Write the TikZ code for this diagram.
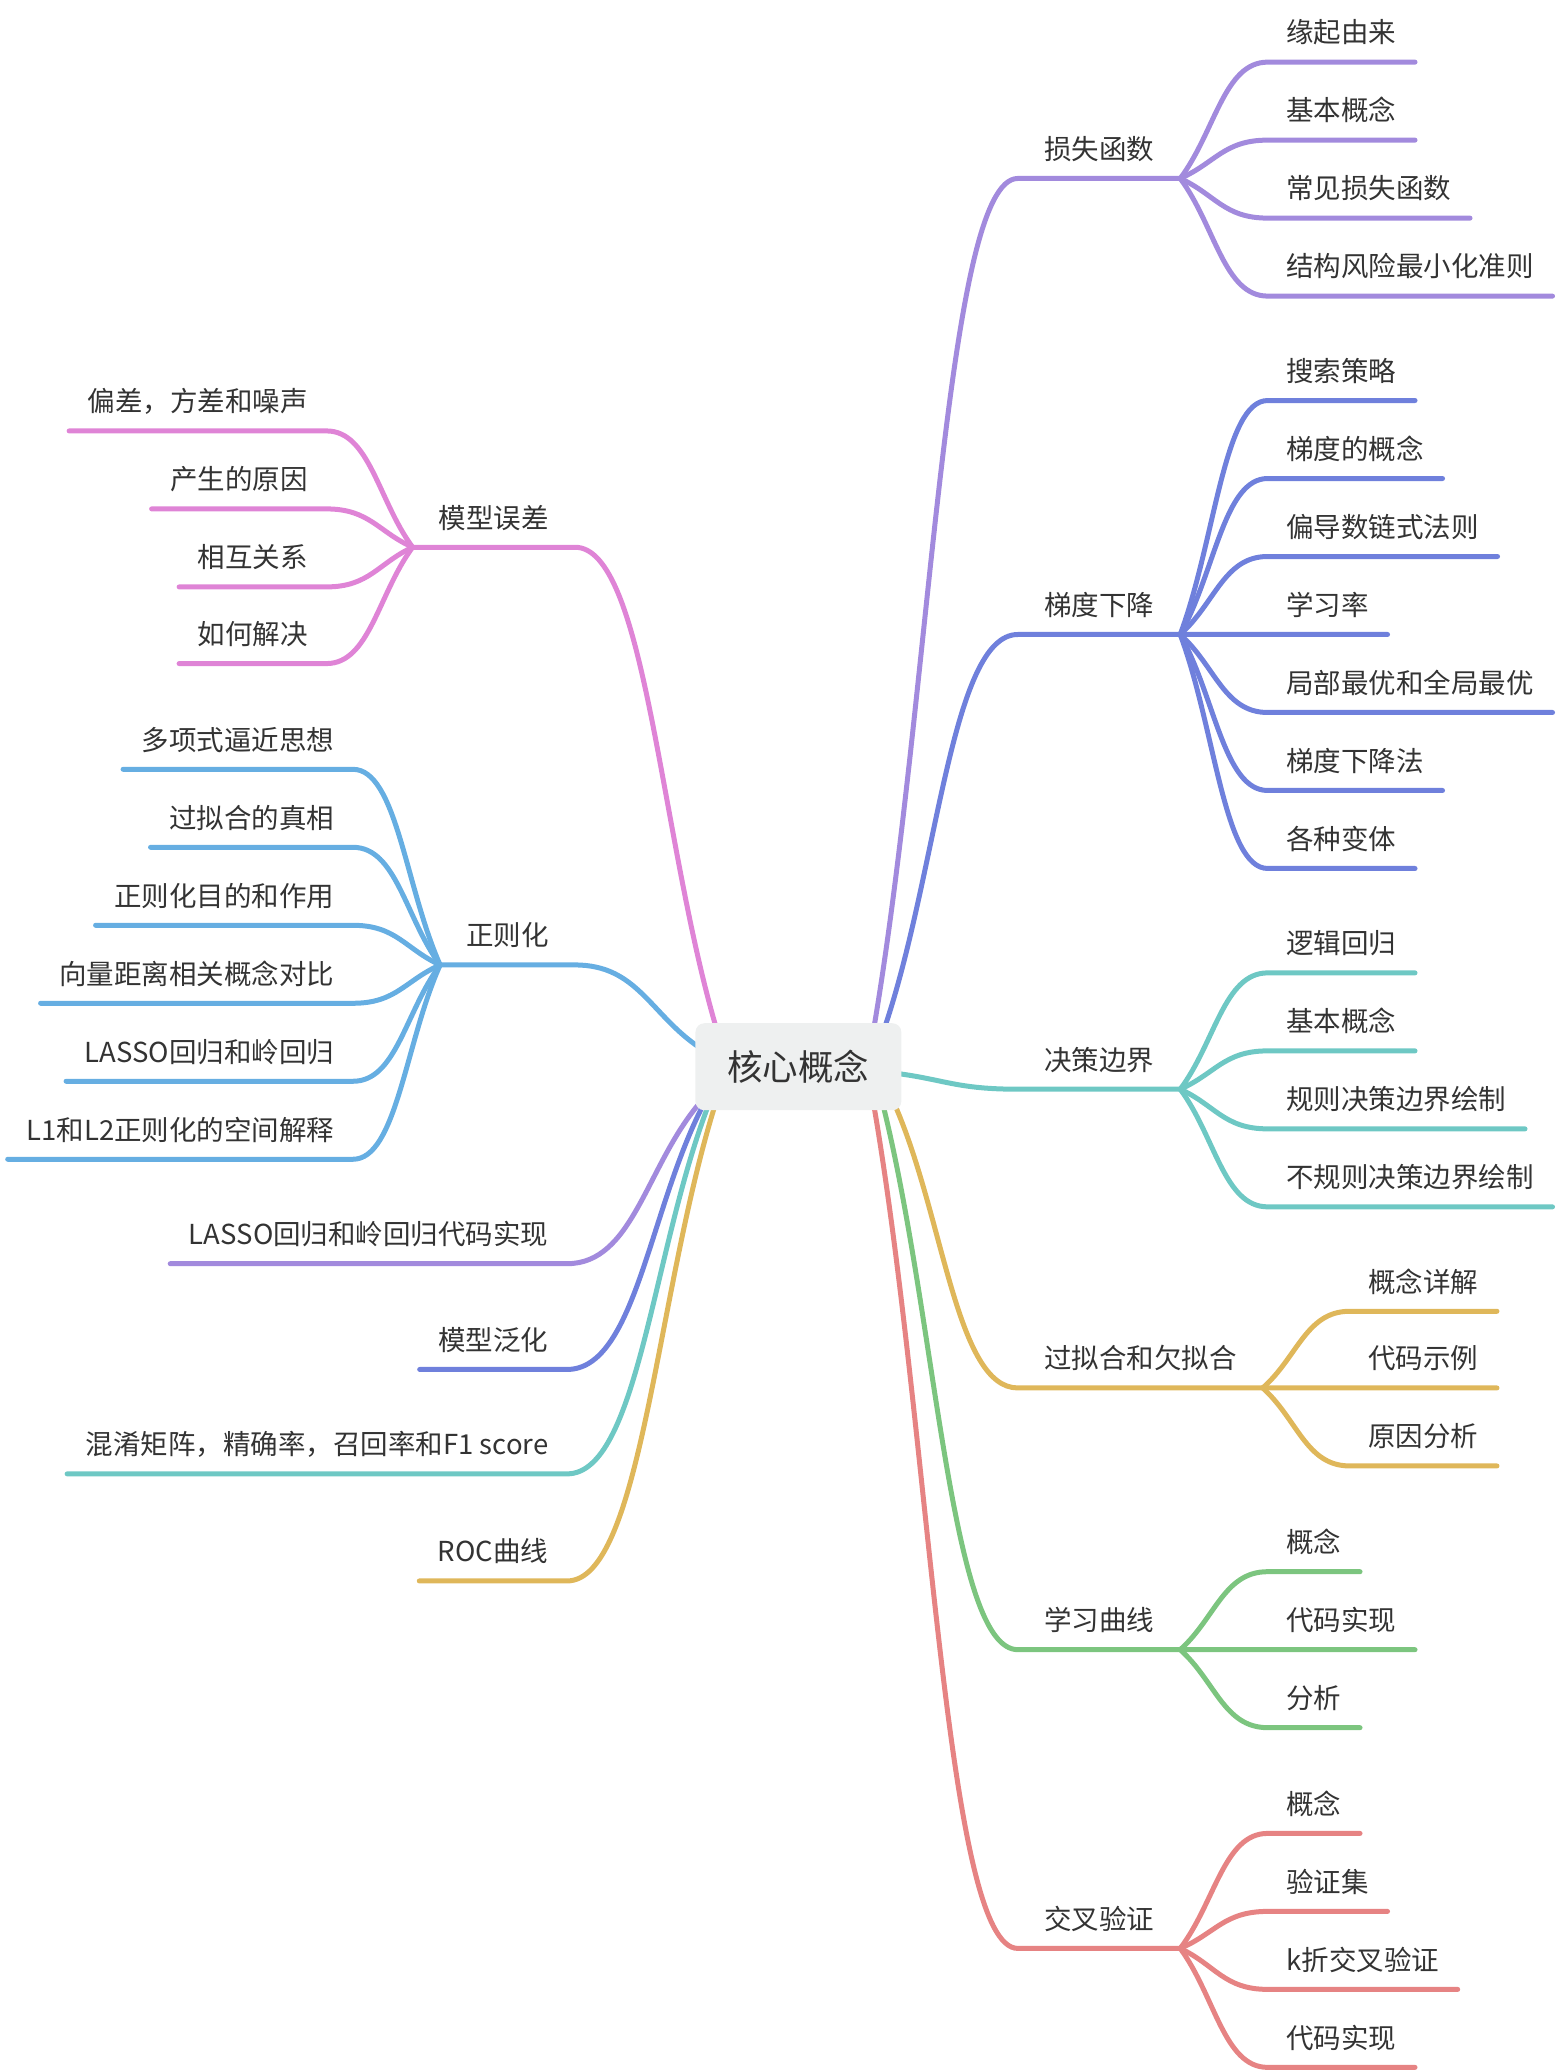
\documentclass[tikz,border=0pt]{standalone}
\usepackage{fontspec}
\setmainfont{Noto Sans CJK SC}
\usetikzlibrary{calc}
\definecolor{ink}{HTML}{333333}
\definecolor{corefill}{HTML}{EEF0F0}
\definecolor{cpurple}{HTML}{A28ADD}
\definecolor{cblue}{HTML}{6F80DC}
\definecolor{cteal}{HTML}{6EC8C4}
\definecolor{cyellow}{HTML}{DFB75A}
\definecolor{cgreen}{HTML}{7CC57F}
\definecolor{cred}{HTML}{E68383}
\definecolor{cpink}{HTML}{DF84D6}
\definecolor{clblue}{HTML}{66AEE2}
\pgfdeclarelayer{background}
\pgfsetlayers{background,main}
\tikzset{
  core/.style={fill=corefill, rounded corners=9pt, minimum width=206pt, minimum height=87pt,
    inner sep=0pt, text=ink, font=\fontsize{35.5}{40}\selectfont},
  topic/.style={inner xsep=26pt, inner ysep=19pt, text depth=0pt, text=ink,
    font=\fontsize{27.5}{32}\selectfont},
  item/.style={topic, inner xsep=18.5pt},
  twig/.style={line width=5pt, line cap=round,
    to path={.. controls ($(\tikztostart)!0.4!(\tikztotarget)$)
      and ($(\tikztotarget)!0.5!(\tikztostart |- \tikztotarget)$) .. (\tikztotarget) \tikztonodes}},
}

\begin{document}
\begin{tikzpicture}[x=1.322pt, y=-1.322pt]
  \useasboundingbox (0,0) rectangle (1177,1566);
  \node[core] (core) at (604,807) {核心概念};

  \node[topic, anchor=south west] (loss) at (770,135) {损失函数};
  \node[topic, anchor=south west] (grad) at (770,480) {梯度下降};
  \node[topic, anchor=south west] (bound) at (770,824) {决策边界};
  \node[topic, anchor=south west] (fit) at (770,1050) {过拟合和欠拟合};
  \node[topic, anchor=south west] (curve) at (770,1248) {学习曲线};
  \node[topic, anchor=south west] (cv) at (770,1474) {交叉验证};

  \node[item, anchor=south west] (loss1) at (959,47) {缘起由来};
  \node[item, anchor=south west] (loss2) at (959,106) {基本概念};
  \node[item, anchor=south west] (loss3) at (959,165) {常见损失函数};
  \node[item, anchor=south west] (loss4) at (959,224) {结构风险最小化准则};

  \node[item, anchor=south west] (grad1) at (959,303) {搜索策略};
  \node[item, anchor=south west] (grad2) at (959,362) {梯度的概念};
  \node[item, anchor=south west] (grad3) at (959,421) {偏导数链式法则};
  \node[item, anchor=south west] (grad4) at (959,480) {学习率};
  \node[item, anchor=south west] (grad5) at (959,539) {局部最优和全局最优};
  \node[item, anchor=south west] (grad6) at (959,598) {梯度下降法};
  \node[item, anchor=south west] (grad7) at (959,657) {各种变体};

  \node[item, anchor=south west] (bound1) at (959,736) {逻辑回归};
  \node[item, anchor=south west] (bound2) at (959,795) {基本概念};
  \node[item, anchor=south west] (bound3) at (959,854) {规则决策边界绘制};
  \node[item, anchor=south west] (bound4) at (959,913) {不规则决策边界绘制};

  \node[item, anchor=south west] (fit1) at (1021,992) {概念详解};
  \node[item, anchor=south west] (fit2) at (1021,1050) {代码示例};
  \node[item, anchor=south west] (fit3) at (1021,1109) {原因分析};

  \node[item, anchor=south west] (curve1) at (959,1189) {概念};
  \node[item, anchor=south west] (curve2) at (959,1248) {代码实现};
  \node[item, anchor=south west] (curve3) at (959,1307) {分析};

  \node[item, anchor=south west] (cv1) at (959,1387) {概念};
  \node[item, anchor=south west] (cv2) at (959,1446) {验证集};
  \node[item, anchor=south west] (cv3) at (959,1505) {k折交叉验证};
  \node[item, anchor=south west] (cv4) at (959,1564) {代码实现};

  \node[topic, anchor=south east] (err) at (435,414) {模型误差};
  \node[topic, anchor=south east] (reg) at (435,730) {正则化};
  \node[item, anchor=south east] (lasso) at (429,956) {LASSO回归和岭回归代码实现};
  \node[item, anchor=south east] (gen) at (429,1036) {模型泛化};
  \node[item, anchor=south east] (conf) at (429,1115) {混淆矩阵，精确率，召回率和F1 score};
  \node[item, anchor=south east] (roc) at (429,1196) {ROC曲线};

  \node[item, anchor=south east] (err1) at (247,326) {偏差，方差和噪声};
  \node[item, anchor=south east] (err2) at (247,385) {产生的原因};
  \node[item, anchor=south east] (err3) at (247,444) {相互关系};
  \node[item, anchor=south east] (err4) at (247,502) {如何解决};

  \node[item, anchor=south east] (reg1) at (267,582) {多项式逼近思想};
  \node[item, anchor=south east] (reg2) at (267,641) {过拟合的真相};
  \node[item, anchor=south east] (reg3) at (267,700) {正则化目的和作用};
  \node[item, anchor=south east] (reg4) at (267,759) {向量距离相关概念对比};
  \node[item, anchor=south east] (reg5) at (267,818) {LASSO回归和岭回归};
  \node[item, anchor=south east] (reg6) at (267,877) {L1和L2正则化的空间解释};

  \coordinate (s-loss) at ($(core.north east)+(-21,4)$);
  \coordinate (s-grad) at ($(core.north east)+(-13,4)$);
  \coordinate (s-bound) at ($(core.east)+(-4,5)$);
  \coordinate (s-fit) at ($(core.south east)+(-5,-4)$);
  \coordinate (s-curve) at ($(core.south east)+(-14,-4)$);
  \coordinate (s-cv) at ($(core.south east)+(-21,-4)$);
  \coordinate (s-err) at ($(core.north west)+(16,4)$);
  \coordinate (s-reg) at ($(core.west)+(4,-14)$);
  \coordinate (s-lasso) at ($(core.south west)+(2,-4)$);
  \coordinate (s-gen) at ($(core.south west)+(6,-4)$);
  \coordinate (s-conf) at ($(core.south west)+(10,-4)$);
  \coordinate (s-roc) at ($(core.south west)+(15,-4)$);

  \begin{pgfonlayer}{background}
  \draw[twig, cpurple] (s-loss) to (loss.south west) -- (loss.south east);
  \draw[twig, cblue] (s-grad) to (grad.south west) -- (grad.south east);
  \draw[twig, cteal] (s-bound) to (bound.south west) -- (bound.south east);
  \draw[twig, cyellow] (s-fit) to (fit.south west) -- (fit.south east);
  \draw[twig, cgreen] (s-curve) to (curve.south west) -- (curve.south east);
  \draw[twig, cred] (s-cv) to (cv.south west) -- (cv.south east);
  \draw[twig, cpink] (s-err) to (err.south east) -- (err.south west);
  \draw[twig, clblue] (s-reg) to (reg.south east) -- (reg.south west);
  \draw[twig, cpurple] (s-lasso) to (lasso.south east) -- (lasso.south west);
  \draw[twig, cblue] (s-gen) to (gen.south east) -- (gen.south west);
  \draw[twig, cteal] (s-conf) to (conf.south east) -- (conf.south west);
  \draw[twig, cyellow] (s-roc) to (roc.south east) -- (roc.south west);

  \draw[twig, cpurple] (loss.south east) to (loss1.south west) -- (loss1.south east);
  \draw[twig, cpurple] (loss.south east) to (loss2.south west) -- (loss2.south east);
  \draw[twig, cpurple] (loss.south east) to (loss3.south west) -- (loss3.south east);
  \draw[twig, cpurple] (loss.south east) to (loss4.south west) -- (loss4.south east);

  \draw[twig, cblue] (grad.south east) to (grad1.south west) -- (grad1.south east);
  \draw[twig, cblue] (grad.south east) to (grad2.south west) -- (grad2.south east);
  \draw[twig, cblue] (grad.south east) to (grad3.south west) -- (grad3.south east);
  \draw[twig, cblue] (grad.south east) to (grad4.south west) -- (grad4.south east);
  \draw[twig, cblue] (grad.south east) to (grad5.south west) -- (grad5.south east);
  \draw[twig, cblue] (grad.south east) to (grad6.south west) -- (grad6.south east);
  \draw[twig, cblue] (grad.south east) to (grad7.south west) -- (grad7.south east);

  \draw[twig, cteal] (bound.south east) to (bound1.south west) -- (bound1.south east);
  \draw[twig, cteal] (bound.south east) to (bound2.south west) -- (bound2.south east);
  \draw[twig, cteal] (bound.south east) to (bound3.south west) -- (bound3.south east);
  \draw[twig, cteal] (bound.south east) to (bound4.south west) -- (bound4.south east);

  \draw[twig, cyellow] (fit.south east) to (fit1.south west) -- (fit1.south east);
  \draw[twig, cyellow] (fit.south east) to (fit2.south west) -- (fit2.south east);
  \draw[twig, cyellow] (fit.south east) to (fit3.south west) -- (fit3.south east);

  \draw[twig, cgreen] (curve.south east) to (curve1.south west) -- (curve1.south east);
  \draw[twig, cgreen] (curve.south east) to (curve2.south west) -- (curve2.south east);
  \draw[twig, cgreen] (curve.south east) to (curve3.south west) -- (curve3.south east);

  \draw[twig, cred] (cv.south east) to (cv1.south west) -- (cv1.south east);
  \draw[twig, cred] (cv.south east) to (cv2.south west) -- (cv2.south east);
  \draw[twig, cred] (cv.south east) to (cv3.south west) -- (cv3.south east);
  \draw[twig, cred] (cv.south east) to (cv4.south west) -- (cv4.south east);

  \draw[twig, cpink] (err.south west) to (err1.south east) -- (err1.south west);
  \draw[twig, cpink] (err.south west) to (err2.south east) -- (err2.south west);
  \draw[twig, cpink] (err.south west) to (err3.south east) -- (err3.south west);
  \draw[twig, cpink] (err.south west) to (err4.south east) -- (err4.south west);

  \draw[twig, clblue] (reg.south west) to (reg1.south east) -- (reg1.south west);
  \draw[twig, clblue] (reg.south west) to (reg2.south east) -- (reg2.south west);
  \draw[twig, clblue] (reg.south west) to (reg3.south east) -- (reg3.south west);
  \draw[twig, clblue] (reg.south west) to (reg4.south east) -- (reg4.south west);
  \draw[twig, clblue] (reg.south west) to (reg5.south east) -- (reg5.south west);
  \draw[twig, clblue] (reg.south west) to (reg6.south east) -- (reg6.south west);
  \end{pgfonlayer}
\end{tikzpicture}
\end{document}
